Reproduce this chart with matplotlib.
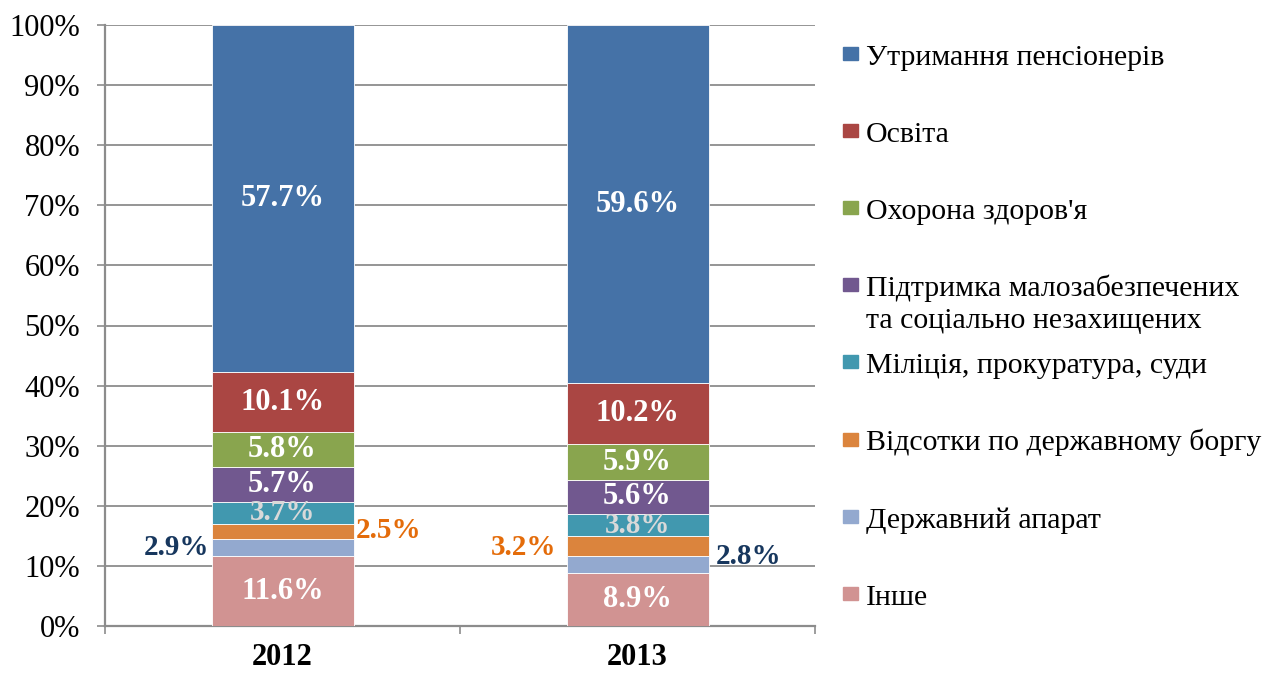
import numpy as np
import matplotlib.pyplot as plt
from matplotlib.patches import Rectangle

plt.rcParams['font.family'] = ['Liberation Serif', 'DejaVu Serif']

years = ["2012", "2013"]
categories = [
    "Інше",
    "Державний апарат",
    "Відсотки по державному боргу",
    "Міліція, прокуратура, суди",
    "Підтримка малозабезпечених\nта соціально незахищених",
    "Охорона здоров'я",
    "Освіта",
    "Утримання пенсіонерів",
]
values_2012 = [11.6, 2.9, 2.5, 3.7, 5.7, 5.8, 10.1, 57.7]
values_2013 = [8.9, 2.8, 3.2, 3.8, 5.6, 5.9, 10.2, 59.6]
colors = ["#D19392", "#93A9CF", "#DB843D", "#4198AF",
          "#71588F", "#89A54E", "#AA4643", "#4572A7"]

data = np.array([values_2012, values_2013]).T
x = np.arange(len(years))
width = 0.4
W, H = 1272, 673

fig = plt.figure(figsize=(W / 100, H / 100), dpi=100)
ax = fig.add_axes([105 / W, 47 / H, 710 / W, 601 / H])

bottom = np.zeros(len(years))
for vals, cat, col in zip(data, categories, colors):
    ax.bar(x, vals, width, bottom=bottom, color=col, label=cat,
           edgecolor="white", linewidth=0.6, zorder=3)
    for i, v in enumerate(vals):
        yc = bottom[i] + v / 2
        txt = f"{v:.1f}%"
        if cat == "Державний апарат":
            if i == 0:
                ax.text(x[i] - width / 2 - 0.005, yc, txt, ha="right", va="center",
                        fontsize=21, fontweight="bold", color="#17375E")
            else:
                ax.text(x[i] + width / 2 + 0.02, yc + 1.2, txt, ha="left", va="center",
                        fontsize=21, fontweight="bold", color="#17375E")
        elif cat == "Відсотки по державному боргу":
            if i == 0:
                ax.text(x[i] + width / 2 + 0.005, yc + 0.2, txt, ha="left", va="center",
                        fontsize=21, fontweight="bold", color="#E46C0A")
            else:
                ax.text(x[i] - width / 2 - 0.03, yc - 0.3, txt, ha="right", va="center",
                        fontsize=21, fontweight="bold", color="#E46C0A")
        elif cat == "Міліція, прокуратура, суди":
            ax.text(x[i], yc, txt, ha="center", va="center",
                    fontsize=21, fontweight="bold", color="#D9D9D9", zorder=4)
        else:
            ax.text(x[i], yc, txt, ha="center", va="center",
                    fontsize=22, fontweight="bold", color="white", zorder=4)
    bottom += vals

ax.set_xlim(-0.5, 1.5)
ax.set_ylim(0, 100)
ax.set_yticks(np.arange(0, 101, 10))
ax.set_yticklabels([f"{t}%" for t in range(0, 101, 10)], fontsize=22)
ax.set_xticks(x)
ax.set_xticklabels(years, fontsize=22, fontweight="bold")
ax.set_xticks([-0.5, 0.5, 1.5], minor=True)
ax.tick_params(axis="x", which="major", length=0, pad=12)
ax.tick_params(axis="x", which="minor", length=6, color="#8C8C8C", width=1.2)
ax.tick_params(axis="y", length=6, color="#8C8C8C", width=1.2, pad=12)

ax.grid(axis="y", color="#8C8C8C", linewidth=1.3, zorder=0)
for s in ["top", "right"]:
    ax.spines[s].set_visible(False)
for s in ["left", "bottom"]:
    ax.spines[s].set_color("#8C8C8C")
    ax.spines[s].set_linewidth(1.6)

# legend drawn by hand so every entry sits on an even grid (as in Excel)
step = 77.1
for k, (cat, col) in enumerate(zip(categories[::-1], colors[::-1])):
    base = 65 + k * step
    fig.patches.append(Rectangle((843 / W, 1 - (base - 5) / H), 15 / W, 13 / H,
                                 transform=fig.transFigure, color=col))
    for j, line in enumerate(cat.split("\n")):
        fig.text(866 / W, 1 - (base + j * 32) / H, line, fontsize=21.5,
                 ha="left", va="baseline")

fig.savefig("out.png", dpi=100)
